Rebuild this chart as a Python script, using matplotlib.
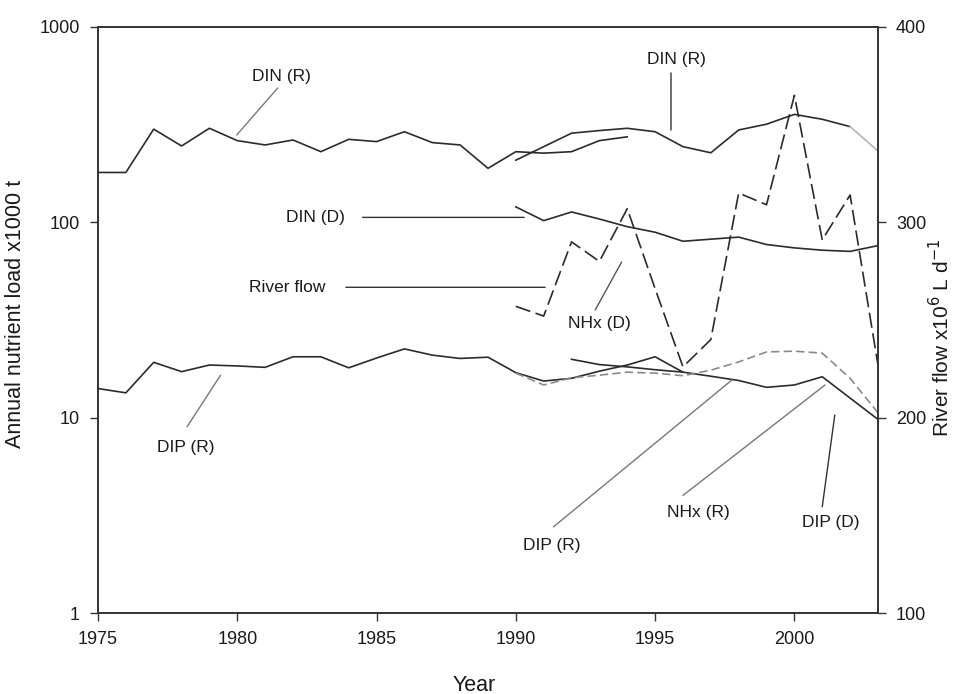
import matplotlib
matplotlib.use("Agg")
import matplotlib.pyplot as plt
from matplotlib.ticker import FixedLocator, NullLocator, FuncFormatter

plt.rcParams['font.family'] = ['Liberation Sans', 'DejaVu Sans']
plt.rcParams['lines.scale_dashes'] = False

# ---- data -------------------------------------------------------------
years_long = list(range(1975, 1995))
din_r_long = [180, 180, 300, 246, 303, 262, 249, 264, 230, 266,
              259, 291, 256, 249, 189, 230, 226, 230, 262, 274]

years_recent = list(range(1990, 2004))
din_r_recent = [208, 244, 286, 295, 303, 291, 244, 227, 297, 318, 357, 337, 309, 232]
din_d = [120, 102, 113, 104, 95, 89, 80, 82, 84, 77, 74, 72, 71, 76]
river_flow = [257, 252, 290, 280, 307, 266, 226, 240, 315, 309, 365, 291, 314, 227]
nhx_r = [16.9, 14.7, 16.0, 16.5, 17.1, 16.9, 16.4, 17.5, 19.3, 21.7, 21.9, 21.4, 15.9, 10.6]

years_dip_r = list(range(1975, 1997))
dip_r = [14.1, 13.4, 19.2, 17.2, 18.6, 18.4, 18.1, 20.5, 20.5, 18.0, 20.2,
         22.5, 20.9, 20.1, 20.4, 17.0, 15.4, 15.9, 17.3, 18.6, 20.5, 17.1]

years_dip_d = list(range(1992, 2004))
dip_d = [19.9, 18.7, 18.2, 17.6, 17.1, 16.3, 15.5, 14.3, 14.7, 16.2, 12.6, 9.8]

x_ticks = [1975, 1980, 1985, 1990, 1995, 2000]
load_ticks = [1, 10, 100, 1000]
flow_ticks = [100, 200, 300, 400]

# label text, label position, leader start, leader end, leader colour
callouts = [
    ("DIN (R)",    (1981.6, 560), (1981.45, 487), (1979.98, 280), "#7a7a7a"),
    ("DIN (R)",    (1995.75, 680), (1995.57, 582), (1995.57, 297), "#333333"),
    ("DIN (D)",    (1982.8, 106), (1984.5, 106), (1990.3, 106), "#333333"),
    ("River flow", (1981.8, 46.5), (1983.9, 46.5), (1991.05, 46.5), "#333333"),
    ("NHx (D)",    (1993.0, 30.5), (1992.85, 35.6), (1993.8, 62.7), "#555555"),
    ("DIP (R)",    (1978.15, 7.0), (1978.2, 9.0), (1979.4, 16.5), "#777777"),
    ("DIP (R)",    (1991.3, 2.22), (1991.35, 2.76), (1997.76, 15.6), "#777777"),
    ("NHx (R)",    (1996.55, 3.28), (1996.0, 4.0), (2001.1, 14.7), "#777777"),
    ("DIP (D)",    (2001.3, 2.9), (2001.0, 3.5), (2001.45, 10.3), "#333333"),
]

# ---- figure -----------------------------------------------------------
fig = plt.figure(figsize=(9.57, 6.94), dpi=100)
ax = fig.add_axes([0.1024, 0.1167, 0.8150, 0.8444])
ax2 = ax.twinx()

dark = "#2b2b2b"
lw = 1.2

ax.plot(years_long, din_r_long, color=dark, lw=lw)
ax.plot(years_recent[:-1], din_r_recent[:-1], color=dark, lw=lw)
ax.plot(years_recent[-2:], din_r_recent[-2:], color="#b5b5b5", lw=lw)
ax.plot(years_recent, din_d, color=dark, lw=lw)
ax.plot(years_dip_r, dip_r, color=dark, lw=lw)
ax.plot(years_dip_d, dip_d, color=dark, lw=lw)
ax.plot(years_recent, nhx_r, color="#8a8a8a", lw=lw, dashes=[6, 3])
ax2.plot(years_recent, river_flow, color=dark, lw=lw, dashes=[11, 4])

for text, pos, start, end, col in callouts:
    ax.annotate("", xy=end, xytext=start,
                arrowprops=dict(arrowstyle="-", color=col, lw=1.0,
                                shrinkA=0, shrinkB=0))
    ax.text(pos[0], pos[1], text, ha="center", va="center",
            fontsize=12.5, color="#1a1a1a")

# ---- axes -------------------------------------------------------------
ax.set_xlim(1975, 2003)
ax.set_yscale("log")
ax.set_ylim(1, 1000)
ax2.set_ylim(100, 400)

ax.xaxis.set_major_locator(FixedLocator(x_ticks))
ax.yaxis.set_major_locator(FixedLocator(load_ticks))
ax.yaxis.set_minor_locator(NullLocator())
ax.yaxis.set_major_formatter(FuncFormatter(lambda v, p: f"{v:g}"))
ax2.yaxis.set_major_locator(FixedLocator(flow_ticks))

for a in (ax, ax2):
    a.tick_params(direction="out", length=6, width=1.0, color="#333333",
                  labelsize=13, pad=7, labelcolor="#1a1a1a")
    for s in a.spines.values():
        s.set_color("#333333")
        s.set_linewidth(1.2)

ax.set_xlabel("Year", fontsize=15.5, color="#1a1a1a")
ax.xaxis.set_label_coords(0.482, -0.105)
ax.set_ylabel("Annual nutrient load x1000 t", fontsize=15.5, color="#1a1a1a")
ax.yaxis.set_label_coords(-0.092, 0.51)
ax2.set_ylabel("River flow x10$^{6}$ L d$^{-1}$", fontsize=15, color="#1a1a1a")
ax2.yaxis.set_label_coords(1.064, 0.47)

fig.savefig("out.png", dpi=100)
